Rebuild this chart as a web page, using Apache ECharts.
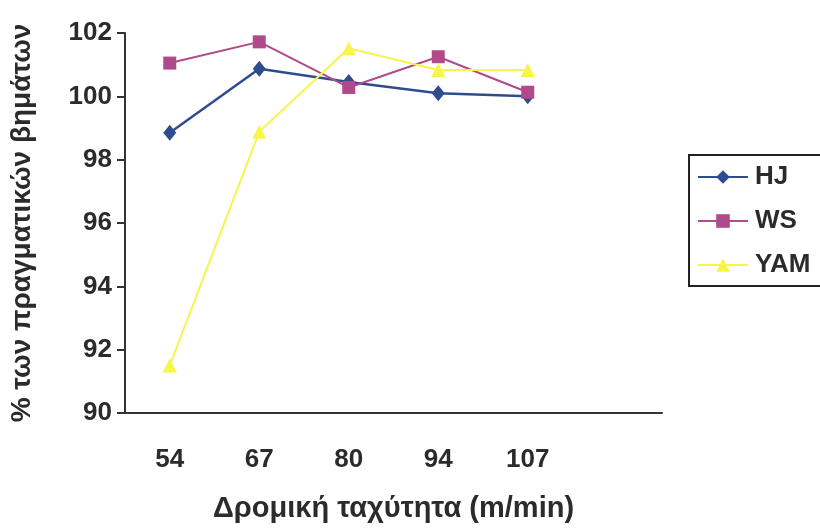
<!DOCTYPE html>
<html>
<head>
<meta charset="utf-8">
<script src="https://cdn.jsdelivr.net/npm/echarts@6/dist/echarts.min.js"></script>
<style>
  html, body { margin: 0; padding: 0; background: #fff; }
  #chart { width: 820px; height: 528px; }
</style>
</head>
<body>
<div id="chart"></div>
<script>
const speeds = ['54', '67', '80', '94', '107', ''];
const hj = [98.85, 100.87, 100.45, 100.1, 100.0];
const ws = [101.05, 101.72, 100.28, 101.25, 100.13];
const yam = [91.5, 98.88, 101.52, 100.83, 100.83];
const yTicks = { min: 90, max: 102, interval: 2 };

const font = 'Liberation Sans, Arial, sans-serif';
const axisColor = '#333';
const textColor = '#2b2b2b';

const chart = echarts.init(document.getElementById('chart'));
chart.setOption({
	animation: false,
	backgroundColor: '#fff',
	grid: { left: 123, top: 33, right: 158, bottom: 112 },
	legend: {
		orient: 'vertical',
		left: 689,
		top: 155,
		padding: [7, 30, 6, 8],
		itemGap: 14,
		itemWidth: 50,
		itemHeight: 17,
		borderColor: '#222',
		borderWidth: 2,
		textStyle: { fontFamily: font, fontSize: 26, lineHeight: 30, fontWeight: 'bold', color: textColor, padding: [0, 0, 0, 2] },
		data: ['HJ', 'WS', 'YAM'],
	},
	xAxis: {
		type: 'category',
		data: speeds,
		boundaryGap: true,
		name: 'Δρομική ταχύτητα (m/min)',
		nameLocation: 'middle',
		nameGap: 81,
		nameTextStyle: { fontFamily: font, fontSize: 29, fontWeight: 'bold', color: textColor },
		axisLine: { lineStyle: { color: axisColor, width: 2 } },
		axisTick: { length: 8, lineStyle: { color: axisColor, width: 2 } },
		axisLabel: { margin: 34, fontFamily: font, fontSize: 26, fontWeight: 'bold', color: textColor },
		splitLine: { show: false },
	},
	yAxis: {
		type: 'value',
		min: yTicks.min,
		max: yTicks.max,
		interval: yTicks.interval,
		name: '% των πραγματικών βημάτων',
		nameLocation: 'middle',
		nameRotate: 90,
		nameGap: 89,
		nameTextStyle: { fontFamily: font, fontSize: 28, fontWeight: 'bold', color: textColor },
		axisLine: { show: true, lineStyle: { color: axisColor, width: 2 } },
		axisTick: { show: true, length: 8, lineStyle: { color: axisColor, width: 2 } },
		axisLabel: { margin: 13, fontFamily: font, fontSize: 26, fontWeight: 'bold', color: textColor },
		splitLine: { show: false },
	},
	series: [
		{
			name: 'HJ',
			type: 'line',
			data: hj,
			symbol: 'diamond',
			symbolSize: [13, 16],
			itemStyle: { color: '#2f4d8e' },
			lineStyle: { color: '#2f4d8e', width: 2.5 },
		},
		{
			name: 'WS',
			type: 'line',
			data: ws,
			symbol: 'rect',
			symbolSize: 13,
			itemStyle: { color: '#b04a8a' },
			lineStyle: { color: '#b04a8a', width: 2 },
		},
		{
			name: 'YAM',
			type: 'line',
			data: yam,
			symbol: 'triangle',
			symbolSize: 14,
			itemStyle: { color: '#f7f54a' },
			lineStyle: { color: '#f7f54a', width: 2 },
		},
	],
});
</script>
</body>
</html>
